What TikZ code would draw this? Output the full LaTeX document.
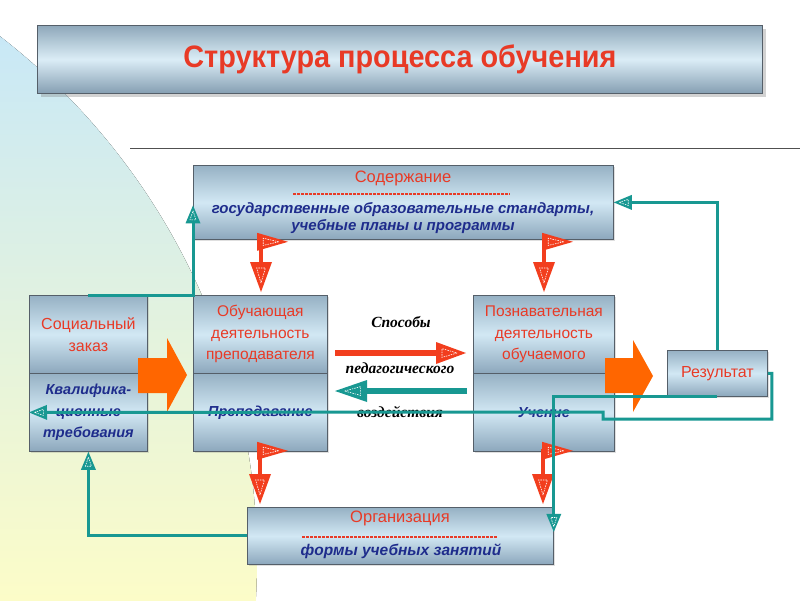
\documentclass[tikz,border=0pt]{standalone}
\usepackage{fontspec}
\setmainfont{Liberation Sans}
\newfontfamily\titlefont[FakeStretch=0.93]{Liberation Sans}
\newfontfamily\serifbi{Liberation Serif}
\usetikzlibrary{shadows,decorations.markings,calc}

\definecolor{txtred}{RGB}{232,58,38}
\definecolor{txtblue}{RGB}{30,44,140}
\definecolor{tealc}{RGB}{24,152,146}
\definecolor{arrred}{RGB}{242,62,30}
\definecolor{orng}{RGB}{255,102,0}
\definecolor{boxtop}{RGB}{150,177,196}
\definecolor{boxmid}{RGB}{210,232,244}
\definecolor{boxbot}{RGB}{140,167,188}
\definecolor{boxline}{RGB}{85,95,105}
\definecolor{bgblue}{RGB}{200,232,247}
\definecolor{bgyel}{RGB}{252,252,200}

\newcommand{\hdfwd}[3]{\fill[#1] (0,0) -- (-#2,#3) -- (-#2,-#3) -- cycle;
  \draw[white,line width=0.6pt,dash pattern=on 1.5pt off 1pt] (-0.3*#2,0) -- (-0.8*#2,0.4*#3) -- (-0.8*#2,-0.4*#3) -- cycle;}
\newcommand{\hdrev}[3]{\fill[#1] (0,0) -- (#2,#3) -- (#2,-#3) -- cycle;
  \draw[white,line width=0.6pt,dash pattern=on 1.5pt off 1pt] (0.3*#2,0) -- (0.8*#2,0.4*#3) -- (0.8*#2,-0.4*#3) -- cycle;}

\tikzset{
  endhd/.style n args={3}{shorten >=#2/2, postaction={decorate,decoration={markings,mark=at position 1 with {\hdfwd{#1}{#2}{#3}}}}},
  starthd/.style n args={3}{shorten <=#2/2, postaction={decorate,decoration={markings,mark=at position 0 with {\hdrev{#1}{#2}{#3}}}}},
  box/.style={draw=boxline, line width=0.8pt, top color=boxtop, bottom color=boxbot, middle color=boxmid,
    inner sep=0pt, anchor=north west, drop shadow={shadow xshift=2pt, shadow yshift=-2pt, opacity=0.25}},
  titlebox/.style={draw=boxline, line width=0.8pt, top color=boxtop!95!black, bottom color=boxbot!95!black, middle color=boxmid!80!white,
    inner sep=0pt, anchor=north west, drop shadow={shadow xshift=4pt, shadow yshift=-4pt, opacity=0.35},
    font=\titlefont\bfseries\fontsize{31}{33}\selectfont, text=txtred},
  redtxt/.style={text=txtred, align=center, font=\fontsize{16}{22}\selectfont},
  bluetxt/.style={text=txtblue, align=center, font=\bfseries\itshape\fontsize{14.5}{21.5}\selectfont},
  midtxt/.style={text=black, font=\serifbi\bfseries\itshape\fontsize{15.5}{17}\selectfont},
  dashline/.style={draw=txtred, line width=1.6pt, dash pattern=on 3pt off 1pt},
  tealconn/.style={draw=tealc, line width=3pt, endhd={tealc}{18}{7.5}},
  redflag/.style={draw=arrred, line width=3.5pt, starthd={arrred}{31}{9}, endhd={arrred}{30}{11}},
}

\begin{document}
\begin{tikzpicture}[x=1pt,y=-1pt]
\useasboundingbox (0,0) rectangle (800,600);
\fill[white] (0,0) rectangle (800,600);

% background disc
\begin{scope}
  \clip (0,0) rectangle (800,600);
  \clip (-405,560) circle (662);
  \fill[top color=bgblue, bottom color=bgyel] (0,30) rectangle (270,600);
\end{scope}

% separator line
\draw[draw={rgb,255:red,80;green,80;blue,80}, line width=0.9pt] (130,148) -- (800,148);

% title
\node[titlebox, minimum width=725, minimum height=68] (title) at (37,25) {Структура процесса обучения};

% boxes
\node[box, minimum width=420, minimum height=74] (soder) at (193,165) {};
\node[redtxt, font=\fontsize{16.5}{18}\selectfont] (sodhead) at (403,178) {Содержание};
\draw[dashline] (293,194) -- (510,194);
\node[bluetxt, font=\bfseries\itshape\fontsize{15}{16.5}\selectfont] (sodtext) at (403,218) {государственные образовательные стандарты,\\учебные планы и программы};

\node[box, minimum width=118, minimum height=78] (soc1) at (29,295) {};
\node[box, minimum width=118, minimum height=78] (soc2) at (29,373) {};
\node[redtxt] (soc1t) at (soc1.center) {Социальный\\заказ};
\node[bluetxt] (soc2t) at (soc2.center) {Квалифика-\\ционные\\требования};

\node[box, minimum width=134, minimum height=78] (ob1) at (193,295) {};
\node[box, minimum width=134, minimum height=78] (ob2) at (193,373) {};
\node[redtxt, font=\fontsize{15.5}{21.5}\selectfont] (ob1t) at (ob1.center) {Обучающая\\деятельность\\преподавателя};
\node[bluetxt] (ob2t) at (ob2.center) {Преподавание};

\node[box, minimum width=141, minimum height=78] (po1) at (473,295) {};
\node[box, minimum width=141, minimum height=78] (po2) at (473,373) {};
\node[redtxt, font=\fontsize{15.5}{21.5}\selectfont] (po1t) at (po1.center) {Познавательная\\деятельность\\обучаемого};
\node[bluetxt] (po2t) at (po2.center) {Учение};

\node[box, minimum width=100, minimum height=46] (rez) at (667,350) {};
\node[redtxt] (rezt) at (rez.center) {Результат};

\node[box, minimum width=306, minimum height=57] (org) at (247,507) {};
\node[redtxt, font=\fontsize{16.5}{18}\selectfont] (orghead) at (400,518) {Организация};
\draw[dashline] (302,537) -- (497,537);
\node[bluetxt, font=\bfseries\itshape\fontsize{15.5}{17}\selectfont] (orgtext) at (401,551) {формы учебных занятий};

% orange block arrows
\fill[orng] (138,358) -- (167,358) -- (167,338) -- (187,375) -- (167,412) -- (167,393) -- (138,393) -- cycle;
\fill[orng] (605,358) -- (633,358) -- (633,340) -- (653,376) -- (633,412) -- (633,393) -- (605,393) -- cycle;

% red flag connectors
\draw[redflag] ([xshift=95,yshift=-2]soder.south west) -| ([xshift=68,yshift=3]ob1.north west);
\draw[redflag] ([xshift=380,yshift=-2]soder.south west) -| ([xshift=71,yshift=3]po1.north west);
\draw[redflag] ([xshift=95,yshift=1]ob2.south west) -| ([xshift=13,yshift=3]org.north west);
\draw[redflag] ([xshift=100,yshift=1]po2.south west) -| ([xshift=296,yshift=3]org.north west);

% middle labels and arrows
\node[midtxt] (sp1) at (401,322) {Способы};
\node[midtxt] (sp2) at (400,368) {педагогического};
\node[midtxt] (sp3) at (400,412) {воздействия};
\coordinate (rA) at (335,353);
\coordinate (rB) at (466,353);
\coordinate (tA) at (467,391);
\coordinate (tB) at (335,391);
\draw[draw=arrred, line width=6pt, endhd={arrred}{30}{11}] (rA) -- (rB);
\draw[draw=tealc, line width=5.5pt, endhd={tealc}{32}{11}] (tA) -- (tB);

% teal connectors
\draw[tealconn] (soc1.north) -- (soc1.north -| soder.west) -- ([yshift=-3]soder.west);
\draw[tealconn] (rez.north) |- (soder.east);
\draw[tealconn] (rez.east) -- ++(4,0) |- (603,419) -- (603,412) -- (soc2.west);
\draw[tealconn] (rez.south) -- (rez.south -| org.east) -- ([yshift=4]org.east);
\draw[tealconn] (org.west) -| (soc2.south);
\end{tikzpicture}
\end{document}
